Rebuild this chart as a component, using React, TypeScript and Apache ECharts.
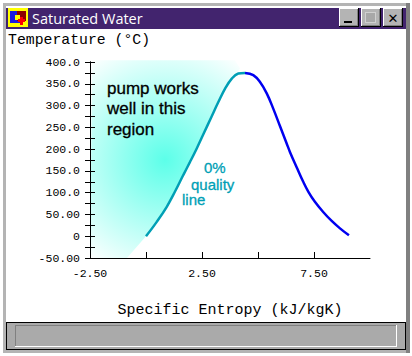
import React, { useEffect, useRef } from "react";
import * as echarts from "echarts";

const windowTitle = "Saturated Water";
const yTitle = "Temperature (°C)";
const xTitle = "Specific Entropy (kJ/kgK)";
const yTickLabels: Record<string, string> = {
  "-50": "-50.00", "0": "0", "50": "50.00", "100": "100.0", "150": "150.0",
  "200": "200.0", "250": "250.0", "300": "300.0", "350": "350.0", "400": "400.0",
};
const xTickLabels: Record<string, string> = { "-2.5": "-2.50", "2.5": "2.50", "7.5": "7.50" };

const liquidLine: number[][] = [
  [0, 0], [0.48, 33], [0.92, 67], [1.29, 102], [1.67, 141], [1.96, 170], [2.26, 201], [2.56, 234],
  [2.93, 275], [3.23, 308], [3.53, 339], [3.83, 362], [4.12, 373.5], [4.42, 375],
];
const vaporLine: number[][] = [
  [4.42, 375], [4.79, 370], [5.09, 354], [5.39, 328], [5.68, 293], [5.98, 253], [6.28, 213],
  [6.43, 193], [6.73, 158], [7.02, 125], [7.25, 102], [7.54, 79], [7.92, 55], [8.29, 35], [8.66, 18], [9.06, 2],
];
const regionOutline: number[][] = [
  [-2.5, -50], [-0.85, -50], [0, 0], [0.48, 33], [0.92, 67], [1.29, 102], [1.67, 141], [1.96, 170],
  [2.26, 201], [2.56, 234], [2.93, 275], [3.23, 308], [3.53, 339], [3.83, 362], [4.2, 385],
  [3.97, 404], [-2.4, 404],
];
const regionNote = "pump works\nwell in this\nregion";
const qualityNotes = ["0%", "quality", "line"];

const MONO = "'Liberation Mono', monospace";
const SANS = "'Liberation Sans', Arial, sans-serif";
const TEAL = "#009fb5";

function rect(x: number, y: number, w: number, h: number, fill: string, extra: any = {}) {
  return { type: "rect", z: -10, shape: { x, y, width: w, height: h }, style: { fill, ...extra }, silent: true };
}

function button(x: number) {
  return [
    rect(x, 8, 20, 19, "#000000"),
    rect(x, 8, 19, 18, "#ffffff"),
    rect(x + 1, 9, 18, 17, "#808080"),
    rect(x + 1, 9, 17, 16, "#b4b4b4"),
  ];
}

function note(x: number, y: number, text: string, fill: string, size: number, lineHeight?: number) {
  return {
    type: "text", silent: true, z: 10,
    style: { x, y, text, fill, font: `${size}px ${SANS}`, lineHeight, stroke: fill, lineWidth: 0.3 },
  };
}

export default function App() {
  const ref = useRef<HTMLDivElement>(null);
  useEffect(() => {
    document.body.style.margin = "0";
    const chart = echarts.init(ref.current!, undefined, { renderer: "svg" });
    const sharedY = { type: "value", min: -50, max: 400, interval: 50, position: "left", z: 6, splitLine: { show: false } };
    const axisStroke = { color: "#000000", width: 1 };
    chart.setOption({
      animation: false,
      backgroundColor: "#ffffff",
      grid: { left: 90, right: 42, top: 62, bottom: 98, containLabel: false },
      xAxis: {
        type: "value", min: -2.5, max: 10, interval: 2.5, z: 6,
        name: xTitle, nameLocation: "middle", nameGap: 45,
        nameTextStyle: { fontFamily: MONO, fontSize: 15, color: "#000000" },
        axisLine: { onZero: false, lineStyle: axisStroke },
        axisTick: { inside: true, length: 6, lineStyle: axisStroke },
        axisLabel: {
          margin: 9, fontFamily: MONO, fontSize: 11.5, color: "#000000",
          showMaxLabel: false, interval: 0,
          formatter: (v: number) => xTickLabels[String(v)] ?? "",
        },
        splitLine: { show: false },
      },
      yAxis: [
        {
          ...sharedY,
          name: yTitle, nameLocation: "end", nameGap: 15,
          nameTextStyle: { fontFamily: MONO, fontSize: 14.8, color: "#000000", align: "left", padding: [0, 0, 0, -82] },
          axisLine: { onZero: false, lineStyle: axisStroke },
          axisTick: { length: 5, lineStyle: axisStroke },
          minorTick: { show: true, splitNumber: 2, length: 5, lineStyle: axisStroke },
          axisLabel: {
            margin: 10, fontFamily: MONO, fontSize: 11.5, color: "#000000",
            formatter: (v: number) => yTickLabels[String(v)] ?? "",
          },
        },
        {
          ...sharedY,
          axisLine: { onZero: false, lineStyle: axisStroke },
          axisTick: { inside: true, length: 5, lineStyle: axisStroke },
          minorTick: { show: true, splitNumber: 2, length: 5, lineStyle: axisStroke },
          axisLabel: { show: false },
        },
      ],
      series: [
        {
          type: "custom", z: 1, silent: true, data: regionOutline,
          encode: { x: 0, y: 1 },
          renderItem: (params: any, api: any) => {
            if (params.dataIndex !== 0) return null;
            return {
              type: "polygon",
              shape: { points: regionOutline.map((p) => api.coord(p)) },
              style: {
                fill: new echarts.graphic.RadialGradient(165, 160, 125, [
                  { offset: 0, color: "#5cffe9" },
                  { offset: 0.45, color: "#a6fff3" },
                  { offset: 1, color: "#ffffff" },
                ], true),
              },
            };
          },
        },
        {
          type: "line", z: 3, data: liquidLine, symbol: "none", smooth: 0.4,
          lineStyle: { color: TEAL, width: 2.5 },
        },
        {
          type: "line", z: 3, data: vaporLine, symbol: "none", smooth: 0.4,
          lineStyle: { color: "#0000f0", width: 2.5 },
        },
      ],
      graphic: [
        rect(3, 3, 404, 350, "#b4b4b4"),
        rect(406, 3, 4, 350, "#808080"),
        rect(6, 6, 400, 344, "#ffffff"),
        rect(6, 8, 400, 21, "#42246e"),
        rect(8, 8, 20, 19, "#ffff00"),
        rect(10, 11, 10, 12, "#1a1ae0"),
        rect(17, 11, 9, 10, "#8b0000"),
        rect(15, 15, 5, 5, "#ffff00"),
        rect(18, 19, 7, 3, "#ff0000"),
        rect(20, 17, 3, 8, "#ff0000"),
        { type: "text", silent: true, z: 10, style: { x: 32, y: 18, text: windowTitle, fill: "#ffffff", font: `14.5px 'Open Sans', sans-serif`, verticalAlign: "middle" } },
        ...button(339), ...button(361), ...button(383),
        rect(344, 21, 8, 2, "#000000"),
        rect(365, 12, 11, 11, "#d0d0d0"),
        rect(366, 13, 9, 9, "#a8a8a8"),
        { type: "text", silent: true, z: 10, style: { x: 393, y: 18, text: "✕", fill: "#000000", font: `bold 13px 'DejaVu Sans', sans-serif`, align: "center", verticalAlign: "middle" } },
        rect(6, 322, 400, 28, "#000000"),
        rect(7, 323, 398, 26, "#aaaaaa"),
        rect(15, 325, 382, 22, "#ffffff"),
        rect(15, 325, 381, 21, "#808080"),
        rect(16, 326, 380, 20, "#aaaaaa"),
        note(107, 78, regionNote, "#000000", 17, 20.5),
        note(204, 160, qualityNotes[0], TEAL, 15),
        note(191, 177, qualityNotes[1], TEAL, 15),
        note(182, 192, qualityNotes[2], TEAL, 15),
      ],
    });
    return () => chart.dispose();
  }, []);
  return <div ref={ref} style={{ width: 412, height: 356 }} />;
}
